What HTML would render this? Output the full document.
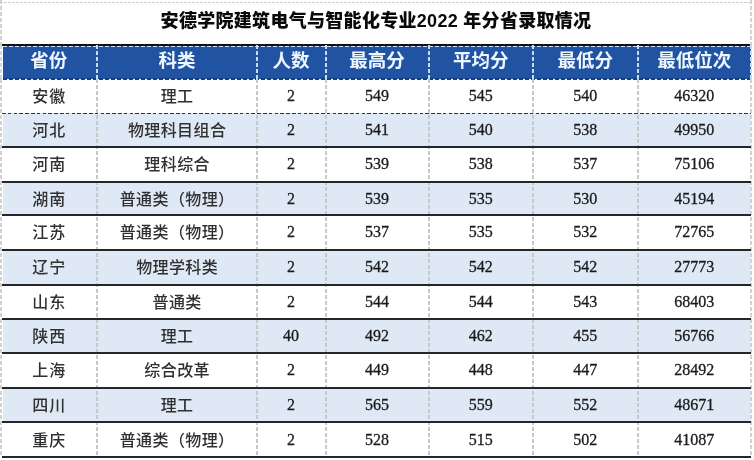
<!DOCTYPE html><html><head><meta charset="utf-8"><style>
*{margin:0;padding:0;box-sizing:border-box}
html,body{width:754px;height:460px;overflow:hidden;background:#fff}
body{position:relative;font-family:"Liberation Sans","Noto Sans CJK SC",sans-serif}
.a{position:absolute}
.title{left:3px;width:748px;top:1px;height:40px;line-height:40px;text-align:center;font-size:18px;font-weight:900;color:#0a0a0a;white-space:nowrap;letter-spacing:0.3px;text-indent:-2px}
.hd{background:#2153a3}
.ht{color:#eef6ff;font-size:18.5px;font-weight:bold;text-align:center;white-space:nowrap}
.rb{background:#dfe9f6}
.c{text-align:center;white-space:nowrap;color:#303030;font-size:16px;font-weight:500;letter-spacing:0.4px;text-indent:0.4px}
.c0{letter-spacing:1px;text-indent:1px}
.c{padding-top:1px}
.n{text-align:center;white-space:nowrap;color:#1a1a1a;font-size:16px;font-family:"Liberation Serif",serif;-webkit-text-stroke:0.3px #1a1a1a}
</style></head><body>
<div class="a rb" style="left:3px;width:748px;top:112.5px;height:34.70px"></div>
<div class="a rb" style="left:3px;width:748px;top:181.7px;height:33.70px"></div>
<div class="a rb" style="left:3px;width:748px;top:249.8px;height:34.90px"></div>
<div class="a rb" style="left:3px;width:748px;top:318.9px;height:34.30px"></div>
<div class="a rb" style="left:3px;width:748px;top:388px;height:33.90px"></div>
<div class="a hd" style="left:3px;width:748px;top:45px;height:33.5px"></div>
<div class="a" style="left:3px;width:748px;top:45.5px;background:repeating-linear-gradient(to right,#d4e4f6 0 4px,transparent 4px 6px);height:1.5px"></div>
<div class="a" style="left:3px;width:748px;top:78.0px;background:repeating-linear-gradient(to right,#173d7c 0 4px,transparent 4px 6px);height:1.5px"></div>
<div class="a title">安德学院建筑电气与智能化专业2022 年分省录取情况</div>
<div class="a" style="left:0;width:751px;top:1.5px;background:repeating-linear-gradient(to right,#d0d0d0 0 3px,transparent 3px 4px);height:1.2px"></div>
<div class="a" style="left:2px;width:749px;top:44px;height:1.5px;background:#111"></div>
<div class="a" style="left:96.4px;top:45px;height:33.5px;background:repeating-linear-gradient(to bottom,#c6dbf2 0 4px,transparent 4px 6px);width:2px"></div>
<div class="a" style="left:96.4px;top:78.5px;height:377.5px;background:repeating-linear-gradient(to bottom,#c8c8c8 0 4px,transparent 4px 6px);width:2px"></div>
<div class="a" style="left:255.5px;top:45px;height:33.5px;background:repeating-linear-gradient(to bottom,#c6dbf2 0 4px,transparent 4px 6px);width:2px"></div>
<div class="a" style="left:255.5px;top:78.5px;height:377.5px;background:repeating-linear-gradient(to bottom,#c8c8c8 0 4px,transparent 4px 6px);width:2px"></div>
<div class="a" style="left:324.5px;top:45px;height:33.5px;background:repeating-linear-gradient(to bottom,#c6dbf2 0 4px,transparent 4px 6px);width:2px"></div>
<div class="a" style="left:324.5px;top:78.5px;height:377.5px;background:repeating-linear-gradient(to bottom,#c8c8c8 0 4px,transparent 4px 6px);width:2px"></div>
<div class="a" style="left:427.7px;top:45px;height:33.5px;background:repeating-linear-gradient(to bottom,#c6dbf2 0 4px,transparent 4px 6px);width:2px"></div>
<div class="a" style="left:427.7px;top:78.5px;height:377.5px;background:repeating-linear-gradient(to bottom,#c8c8c8 0 4px,transparent 4px 6px);width:2px"></div>
<div class="a" style="left:532px;top:45px;height:33.5px;background:repeating-linear-gradient(to bottom,#c6dbf2 0 4px,transparent 4px 6px);width:2px"></div>
<div class="a" style="left:532px;top:78.5px;height:377.5px;background:repeating-linear-gradient(to bottom,#c8c8c8 0 4px,transparent 4px 6px);width:2px"></div>
<div class="a" style="left:636.5px;top:45px;height:33.5px;background:repeating-linear-gradient(to bottom,#c6dbf2 0 4px,transparent 4px 6px);width:2px"></div>
<div class="a" style="left:636.5px;top:78.5px;height:377.5px;background:repeating-linear-gradient(to bottom,#c8c8c8 0 4px,transparent 4px 6px);width:2px"></div>
<div class="a" style="left:0.3px;top:0;height:45px;background:repeating-linear-gradient(to bottom,#d2d2d2 0 4px,transparent 4px 6px);width:2px"></div>
<div class="a" style="left:0.3px;top:45px;height:33.5px;background:repeating-linear-gradient(to bottom,#c6dbf2 0 4px,transparent 4px 6px);width:2px"></div>
<div class="a" style="left:0.3px;top:78.5px;height:377.5px;background:repeating-linear-gradient(to bottom,#d2d2d2 0 4px,transparent 4px 6px);width:2px"></div>
<div class="a" style="left:750px;top:0;height:45px;background:repeating-linear-gradient(to bottom,#d2d2d2 0 4px,transparent 4px 6px);width:2px"></div>
<div class="a" style="left:750px;top:45px;height:33.5px;background:repeating-linear-gradient(to bottom,#c6dbf2 0 4px,transparent 4px 6px);width:2px"></div>
<div class="a" style="left:750px;top:78.5px;height:377.5px;background:repeating-linear-gradient(to bottom,#d2d2d2 0 4px,transparent 4px 6px);width:2px"></div>
<div class="a" style="left:2px;width:749px;top:112.5px;background:repeating-linear-gradient(to right,#333 0 3.5px,transparent 3.5px 5.8px);height:1.5px"></div>
<div class="a" style="left:2px;width:749px;top:146px;height:2px;background:#23272d"></div>
<div class="a" style="left:2px;width:749px;top:181px;height:2px;background:#23272d"></div>
<div class="a" style="left:2px;width:749px;top:214px;height:2px;background:#23272d"></div>
<div class="a" style="left:2px;width:749px;top:249px;height:2px;background:#23272d"></div>
<div class="a" style="left:2px;width:749px;top:284px;height:2px;background:#23272d"></div>
<div class="a" style="left:2px;width:749px;top:318px;height:2px;background:#23272d"></div>
<div class="a" style="left:2px;width:749px;top:352px;height:2px;background:#23272d"></div>
<div class="a" style="left:2px;width:749px;top:387px;height:2px;background:#23272d"></div>
<div class="a" style="left:2px;width:749px;top:421px;height:2px;background:#23272d"></div>
<div class="a" style="left:2px;width:749px;top:456px;height:2px;background:#23272d"></div>
<div class="a ht" style="left:0px;width:97.40px;top:44.5px;height:31.5px;line-height:31.5px">省份</div>
<div class="a ht" style="left:97.4px;width:159.10px;top:44.5px;height:31.5px;line-height:31.5px">科类</div>
<div class="a ht" style="left:256.5px;width:69.00px;top:44.5px;height:31.5px;line-height:31.5px">人数</div>
<div class="a ht" style="left:325.5px;width:103.20px;top:44.5px;height:31.5px;line-height:31.5px">最高分</div>
<div class="a ht" style="left:428.7px;width:104.30px;top:44.5px;height:31.5px;line-height:31.5px">平均分</div>
<div class="a ht" style="left:533px;width:104.50px;top:44.5px;height:31.5px;line-height:31.5px">最低分</div>
<div class="a ht" style="left:637.5px;width:113.50px;top:44.5px;height:31.5px;line-height:31.5px">最低位次</div>
<div class="a c c0" style="left:0px;width:97.40px;top:78.5px;height:34.00px;line-height:34.00px">安徽</div>
<div class="a c" style="left:97.4px;width:159.10px;top:78.5px;height:34.00px;line-height:34.00px">理工</div>
<div class="a n" style="left:256.5px;width:69.00px;top:78.5px;height:34.00px;line-height:34.00px">2</div>
<div class="a n" style="left:325.5px;width:103.20px;top:78.5px;height:34.00px;line-height:34.00px">549</div>
<div class="a n" style="left:428.7px;width:104.30px;top:78.5px;height:34.00px;line-height:34.00px">545</div>
<div class="a n" style="left:533px;width:104.50px;top:78.5px;height:34.00px;line-height:34.00px">540</div>
<div class="a n" style="left:637.5px;width:113.50px;top:78.5px;height:34.00px;line-height:34.00px">46320</div>
<div class="a c c0" style="left:0px;width:97.40px;top:112.5px;height:34.70px;line-height:34.70px">河北</div>
<div class="a c" style="left:97.4px;width:159.10px;top:112.5px;height:34.70px;line-height:34.70px">物理科目组合</div>
<div class="a n" style="left:256.5px;width:69.00px;top:112.5px;height:34.70px;line-height:34.70px">2</div>
<div class="a n" style="left:325.5px;width:103.20px;top:112.5px;height:34.70px;line-height:34.70px">541</div>
<div class="a n" style="left:428.7px;width:104.30px;top:112.5px;height:34.70px;line-height:34.70px">540</div>
<div class="a n" style="left:533px;width:104.50px;top:112.5px;height:34.70px;line-height:34.70px">538</div>
<div class="a n" style="left:637.5px;width:113.50px;top:112.5px;height:34.70px;line-height:34.70px">49950</div>
<div class="a c c0" style="left:0px;width:97.40px;top:147.2px;height:34.50px;line-height:34.50px">河南</div>
<div class="a c" style="left:97.4px;width:159.10px;top:147.2px;height:34.50px;line-height:34.50px">理科综合</div>
<div class="a n" style="left:256.5px;width:69.00px;top:147.2px;height:34.50px;line-height:34.50px">2</div>
<div class="a n" style="left:325.5px;width:103.20px;top:147.2px;height:34.50px;line-height:34.50px">539</div>
<div class="a n" style="left:428.7px;width:104.30px;top:147.2px;height:34.50px;line-height:34.50px">538</div>
<div class="a n" style="left:533px;width:104.50px;top:147.2px;height:34.50px;line-height:34.50px">537</div>
<div class="a n" style="left:637.5px;width:113.50px;top:147.2px;height:34.50px;line-height:34.50px">75106</div>
<div class="a c c0" style="left:0px;width:97.40px;top:181.7px;height:33.70px;line-height:33.70px">湖南</div>
<div class="a c" style="left:97.4px;width:159.10px;top:181.7px;height:33.70px;line-height:33.70px">普通类（物理）</div>
<div class="a n" style="left:256.5px;width:69.00px;top:181.7px;height:33.70px;line-height:33.70px">2</div>
<div class="a n" style="left:325.5px;width:103.20px;top:181.7px;height:33.70px;line-height:33.70px">539</div>
<div class="a n" style="left:428.7px;width:104.30px;top:181.7px;height:33.70px;line-height:33.70px">535</div>
<div class="a n" style="left:533px;width:104.50px;top:181.7px;height:33.70px;line-height:33.70px">530</div>
<div class="a n" style="left:637.5px;width:113.50px;top:181.7px;height:33.70px;line-height:33.70px">45194</div>
<div class="a c c0" style="left:0px;width:97.40px;top:215.4px;height:34.40px;line-height:34.40px">江苏</div>
<div class="a c" style="left:97.4px;width:159.10px;top:215.4px;height:34.40px;line-height:34.40px">普通类（物理）</div>
<div class="a n" style="left:256.5px;width:69.00px;top:215.4px;height:34.40px;line-height:34.40px">2</div>
<div class="a n" style="left:325.5px;width:103.20px;top:215.4px;height:34.40px;line-height:34.40px">537</div>
<div class="a n" style="left:428.7px;width:104.30px;top:215.4px;height:34.40px;line-height:34.40px">535</div>
<div class="a n" style="left:533px;width:104.50px;top:215.4px;height:34.40px;line-height:34.40px">532</div>
<div class="a n" style="left:637.5px;width:113.50px;top:215.4px;height:34.40px;line-height:34.40px">72765</div>
<div class="a c c0" style="left:0px;width:97.40px;top:249.8px;height:34.90px;line-height:34.90px">辽宁</div>
<div class="a c" style="left:97.4px;width:159.10px;top:249.8px;height:34.90px;line-height:34.90px">物理学科类</div>
<div class="a n" style="left:256.5px;width:69.00px;top:249.8px;height:34.90px;line-height:34.90px">2</div>
<div class="a n" style="left:325.5px;width:103.20px;top:249.8px;height:34.90px;line-height:34.90px">542</div>
<div class="a n" style="left:428.7px;width:104.30px;top:249.8px;height:34.90px;line-height:34.90px">542</div>
<div class="a n" style="left:533px;width:104.50px;top:249.8px;height:34.90px;line-height:34.90px">542</div>
<div class="a n" style="left:637.5px;width:113.50px;top:249.8px;height:34.90px;line-height:34.90px">27773</div>
<div class="a c c0" style="left:0px;width:97.40px;top:284.7px;height:34.20px;line-height:34.20px">山东</div>
<div class="a c" style="left:97.4px;width:159.10px;top:284.7px;height:34.20px;line-height:34.20px">普通类</div>
<div class="a n" style="left:256.5px;width:69.00px;top:284.7px;height:34.20px;line-height:34.20px">2</div>
<div class="a n" style="left:325.5px;width:103.20px;top:284.7px;height:34.20px;line-height:34.20px">544</div>
<div class="a n" style="left:428.7px;width:104.30px;top:284.7px;height:34.20px;line-height:34.20px">544</div>
<div class="a n" style="left:533px;width:104.50px;top:284.7px;height:34.20px;line-height:34.20px">543</div>
<div class="a n" style="left:637.5px;width:113.50px;top:284.7px;height:34.20px;line-height:34.20px">68403</div>
<div class="a c c0" style="left:0px;width:97.40px;top:318.9px;height:34.30px;line-height:34.30px">陕西</div>
<div class="a c" style="left:97.4px;width:159.10px;top:318.9px;height:34.30px;line-height:34.30px">理工</div>
<div class="a n" style="left:256.5px;width:69.00px;top:318.9px;height:34.30px;line-height:34.30px">40</div>
<div class="a n" style="left:325.5px;width:103.20px;top:318.9px;height:34.30px;line-height:34.30px">492</div>
<div class="a n" style="left:428.7px;width:104.30px;top:318.9px;height:34.30px;line-height:34.30px">462</div>
<div class="a n" style="left:533px;width:104.50px;top:318.9px;height:34.30px;line-height:34.30px">455</div>
<div class="a n" style="left:637.5px;width:113.50px;top:318.9px;height:34.30px;line-height:34.30px">56766</div>
<div class="a c c0" style="left:0px;width:97.40px;top:353.2px;height:34.80px;line-height:34.80px">上海</div>
<div class="a c" style="left:97.4px;width:159.10px;top:353.2px;height:34.80px;line-height:34.80px">综合改革</div>
<div class="a n" style="left:256.5px;width:69.00px;top:353.2px;height:34.80px;line-height:34.80px">2</div>
<div class="a n" style="left:325.5px;width:103.20px;top:353.2px;height:34.80px;line-height:34.80px">449</div>
<div class="a n" style="left:428.7px;width:104.30px;top:353.2px;height:34.80px;line-height:34.80px">448</div>
<div class="a n" style="left:533px;width:104.50px;top:353.2px;height:34.80px;line-height:34.80px">447</div>
<div class="a n" style="left:637.5px;width:113.50px;top:353.2px;height:34.80px;line-height:34.80px">28492</div>
<div class="a c c0" style="left:0px;width:97.40px;top:388px;height:33.90px;line-height:33.90px">四川</div>
<div class="a c" style="left:97.4px;width:159.10px;top:388px;height:33.90px;line-height:33.90px">理工</div>
<div class="a n" style="left:256.5px;width:69.00px;top:388px;height:33.90px;line-height:33.90px">2</div>
<div class="a n" style="left:325.5px;width:103.20px;top:388px;height:33.90px;line-height:33.90px">565</div>
<div class="a n" style="left:428.7px;width:104.30px;top:388px;height:33.90px;line-height:33.90px">559</div>
<div class="a n" style="left:533px;width:104.50px;top:388px;height:33.90px;line-height:33.90px">552</div>
<div class="a n" style="left:637.5px;width:113.50px;top:388px;height:33.90px;line-height:33.90px">48671</div>
<div class="a c c0" style="left:0px;width:97.40px;top:421.9px;height:35.10px;line-height:35.10px">重庆</div>
<div class="a c" style="left:97.4px;width:159.10px;top:421.9px;height:35.10px;line-height:35.10px">普通类（物理）</div>
<div class="a n" style="left:256.5px;width:69.00px;top:421.9px;height:35.10px;line-height:35.10px">2</div>
<div class="a n" style="left:325.5px;width:103.20px;top:421.9px;height:35.10px;line-height:35.10px">528</div>
<div class="a n" style="left:428.7px;width:104.30px;top:421.9px;height:35.10px;line-height:35.10px">515</div>
<div class="a n" style="left:533px;width:104.50px;top:421.9px;height:35.10px;line-height:35.10px">502</div>
<div class="a n" style="left:637.5px;width:113.50px;top:421.9px;height:35.10px;line-height:35.10px">41087</div>
</body></html>
